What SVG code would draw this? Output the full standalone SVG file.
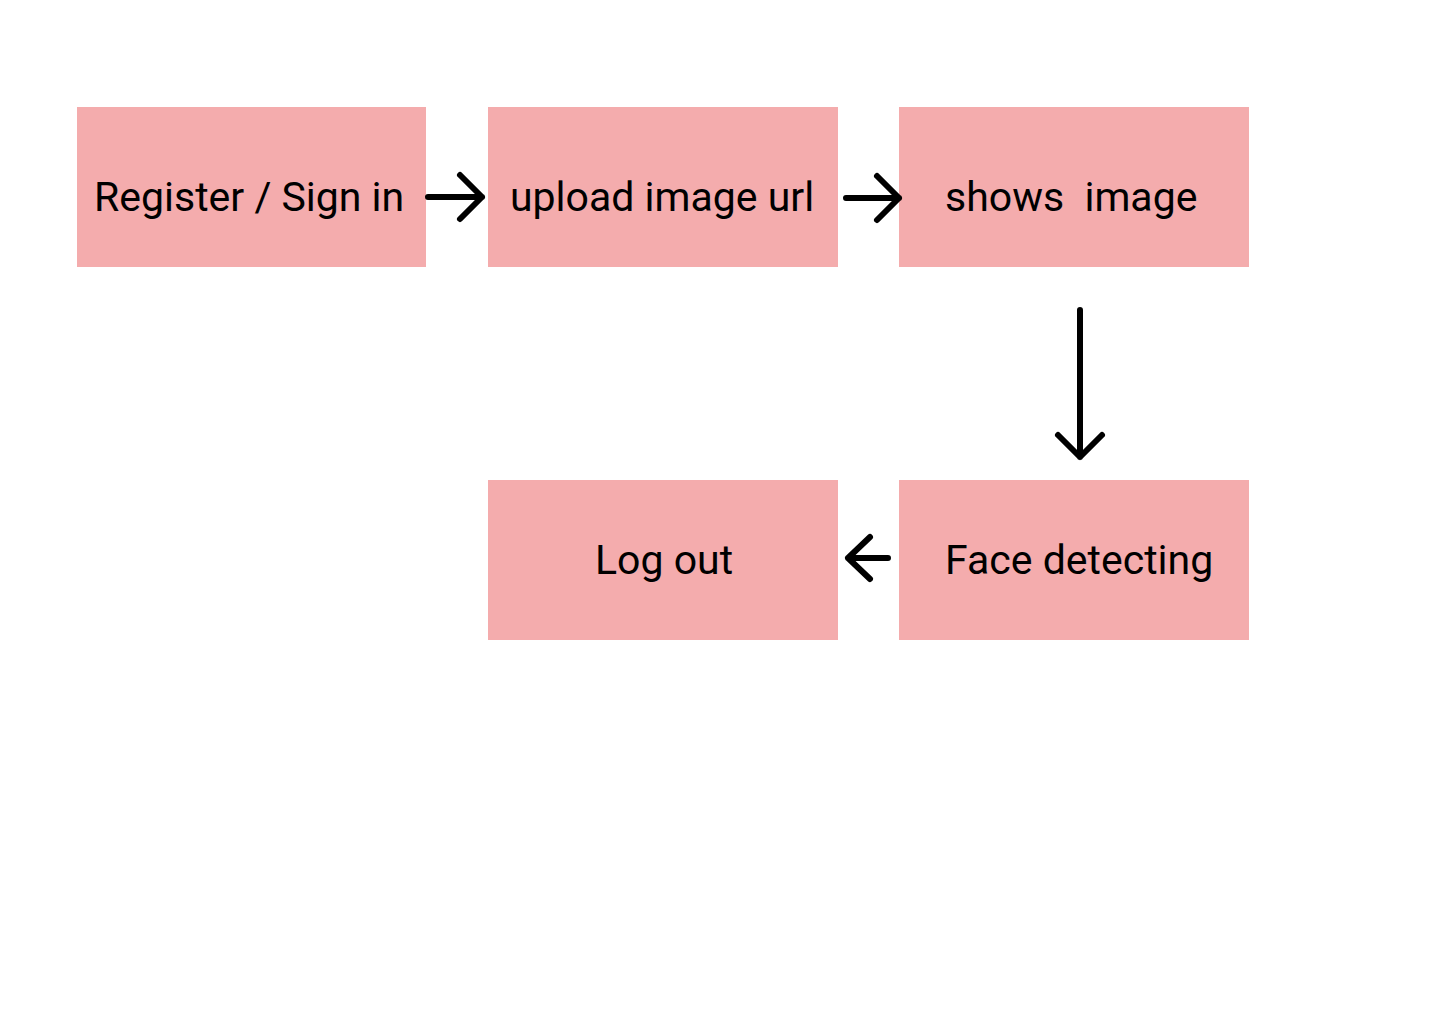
<svg xmlns="http://www.w3.org/2000/svg" width="1440" height="1024" viewBox="0 0 1440 1024">
<style>
.box{fill:#F4ACAD}
.lbl{font-family:Roboto,"Liberation Sans",sans-serif;font-size:41px;fill:#000;white-space:pre}
.conn path{fill:none;stroke:#000;stroke-width:6;stroke-linecap:round;stroke-linejoin:round}
</style>
<rect width="1440" height="1024" fill="#fff"/>
<g id="register">
<rect class="box" x="77" y="107" width="349" height="160"/>
<text class="lbl" x="94" y="211">Register / Sign in</text>
</g>
<g id="upload">
<rect class="box" x="488" y="107" width="350" height="160"/>
<text class="lbl" x="510" y="211">upload image url</text>
</g>
<g id="shows">
<rect class="box" x="899" y="107" width="350" height="160"/>
<text class="lbl" x="945" y="211" xml:space="preserve">shows  image</text>
</g>
<g id="logout">
<rect class="box" x="488" y="480" width="350" height="160"/>
<text class="lbl" x="595" y="574">Log out</text>
</g>
<g id="face">
<rect class="box" x="899" y="480" width="350" height="160"/>
<text class="lbl" x="945" y="574">Face detecting</text>
</g>
<g class="conn" id="connectors">
<path d="M428 197 H482 M460 175 L482 197 L460 219"/>
<path d="M846 198 H899 M877 176 L899 198 L877 220"/>
<path d="M1080 310 V457 M1058 435 L1080 457 L1102 435"/>
<path d="M888 558 H848 M870 537 L848 558 L870 579"/>
</g>
</svg>
